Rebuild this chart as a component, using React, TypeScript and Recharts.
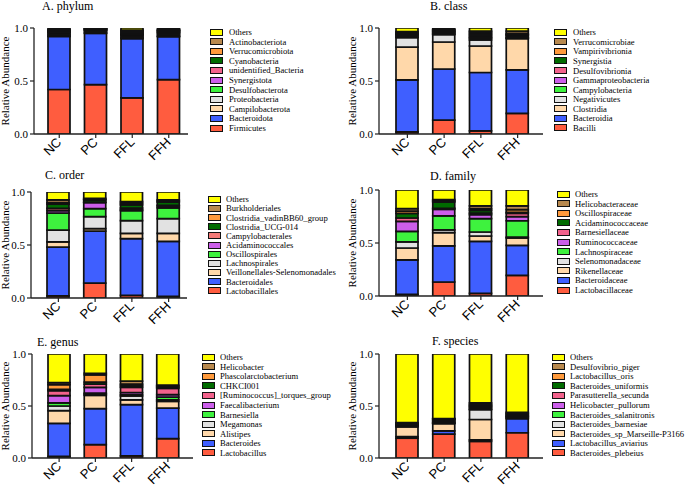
import { Bar, BarChart, XAxis, YAxis } from 'recharts'

const groups = ['NC', 'PC', 'FFL', 'FFH']

// bottom of the stack first
const palette = ['#FF5C3F', '#3F5FFF', '#FFD8AA', '#E2E2E2', '#3EF23E', '#CC5EEA', '#F2628C', '#006B00', '#FF9A3C', '#B8894E', '#FFFF00']

const phylumTaxa = ['Firmicutes', 'Bacteroidota', 'Campilobacterota', 'Proteobacteria', 'Desulfobacterota', 'Synergistota', 'unidentified_Bacteria', 'Cyanobacteria', 'Verrucomicrobiota', 'Actinobacteriota', 'Others']
const phylumValues = [
  [0.42, 0.465, 0.34, 0.513],
  [0.5, 0.485, 0.56, 0.405],
  [0.005, 0.005, 0.01, 0.005],
  [0.015, 0.015, 0.015, 0.015],
  [0.015, 0.01, 0.01, 0.015],
  [0.005, 0.003, 0.005, 0.005],
  [0.01, 0.005, 0.01, 0.01],
  [0.005, 0.005, 0.01, 0.005],
  [0.005, 0.002, 0.01, 0.005],
  [0.005, 0.002, 0.01, 0.007],
  [0.015, 0.003, 0.02, 0.015],
]

const classTaxa = ['Bacilli', 'Bacteroidia', 'Clostridia', 'Negativicutes', 'Campylobacteria', 'Gammaproteobacteria', 'Desulfovibrionia', 'Synergistia', 'Vampirivibrionia', 'Verrucomicrobiae', 'Others']
const classValues = [
  [0.02, 0.13, 0.03, 0.195],
  [0.49, 0.483, 0.55, 0.41],
  [0.31, 0.255, 0.25, 0.295],
  [0.09, 0.07, 0.057, 0.005],
  [0.005, 0.005, 0.015, 0.005],
  [0.015, 0.01, 0.01, 0.015],
  [0.01, 0.01, 0.015, 0.01],
  [0.005, 0.005, 0.015, 0.005],
  [0.01, 0.01, 0.015, 0.01],
  [0.01, 0.007, 0.013, 0.02],
  [0.035, 0.015, 0.03, 0.03],
]

const orderTaxa = ['Lactobacillales', 'Bacteroidales', 'Veillonellales-Selenomonadales', 'Lachnospirales', 'Oscillospirales', 'Acidaminococcales', 'Campylobacterales', 'Clostridia_UCG-014', 'Clostridia_vadinBB60_group', 'Burkholderiales', 'Others']
const orderValues = [
  [0.02, 0.14, 0.025, 0.015],
  [0.46, 0.49, 0.535, 0.52],
  [0.05, 0.025, 0.05, 0.075],
  [0.11, 0.112, 0.12, 0.138],
  [0.16, 0.076, 0.094, 0.102],
  [0.025, 0.057, 0.01, 0.015],
  [0.02, 0.005, 0.015, 0.01],
  [0.04, 0.02, 0.03, 0.03],
  [0.015, 0.005, 0.015, 0.01],
  [0.025, 0.01, 0.016, 0.01],
  [0.075, 0.06, 0.09, 0.075],
]

const familyTaxa = ['Lactobacillaceae', 'Bacteroidaceae', 'Rikenellaceae', 'Selenomonadaceae', 'Lachnospiraceae', 'Ruminococcaceae', 'Barnesiellaceae', 'Acidaminococcaceae', 'Oscillospiraceae', 'Helicobacteraceae', 'Others']
const familyValues = [
  [0.015, 0.132, 0.025, 0.195],
  [0.325, 0.34, 0.491, 0.283],
  [0.113, 0.125, 0.05, 0.069],
  [0.057, 0.026, 0.038, 0.008],
  [0.1, 0.132, 0.126, 0.155],
  [0.094, 0.063, 0.037, 0.038],
  [0.032, 0.01, 0.015, 0.032],
  [0.044, 0.059, 0.025, 0.01],
  [0.02, 0.01, 0.018, 0.025],
  [0.024, 0.013, 0.025, 0.035],
  [0.176, 0.09, 0.15, 0.15],
]

const genusTaxa = ['Lactobacillus', 'Bacteroides', 'Alistipes', 'Megamonas', 'Barnesiella', 'Faecalibacterium', '[Ruminococcus]_torques_group', 'CHKCI001', 'Phascolarctobacterium', 'Helicobacter', 'Others']
const genusValues = [
  [0.015, 0.128, 0.02, 0.186],
  [0.318, 0.346, 0.493, 0.294],
  [0.122, 0.129, 0.045, 0.065],
  [0.045, 0.01, 0.038, 0.015],
  [0.03, 0.01, 0.014, 0.025],
  [0.07, 0.057, 0.02, 0.025],
  [0.047, 0.03, 0.05, 0.06],
  [0.013, 0.02, 0.015, 0.01],
  [0.045, 0.07, 0.015, 0.01],
  [0.02, 0.015, 0.03, 0.01],
  [0.275, 0.185, 0.26, 0.3],
]

const speciesTaxa = ['Bacteroides_plebeius', 'Lactobacillus_aviarius', 'Bacteroides_sp_Marseille-P3166', 'Bacteroides_barnesiae', 'Bacteroides_salanitronis', 'Helicobacter_pullorum', 'Parasutterella_secunda', 'Bacteroides_uniformis', 'Lactobacillus_oris', 'Desulfovibrio_piger', 'Others']
const speciesValues = [
  [0.19, 0.23, 0.16, 0.243],
  [0.015, 0.03, 0.015, 0.135],
  [0.095, 0.07, 0.195, 0.007],
  [0.005, 0.005, 0.095, 0.01],
  [0.005, 0.005, 0.005, 0.005],
  [0.01, 0.01, 0.015, 0.005],
  [0.005, 0.01, 0.01, 0.01],
  [0.005, 0.01, 0.01, 0.01],
  [0.005, 0.005, 0.01, 0.005],
  [0.005, 0.005, 0.015, 0.01],
  [0.66, 0.62, 0.47, 0.56],
]

const orderColors = palette.map((c, i) => (i === 6 ? '#F47A78' : c))

const SERIF = '"Liberation Serif", "Times New Roman", serif'
const SANS = '"Liberation Sans", Arial, sans-serif'

function GroupTick(props: any) {
  const { x, y, payload } = props
  return (
    <g transform={`translate(${x + 3},${y + 3})`}>
      <text textAnchor="end" transform="rotate(-45)" fontFamily={SANS} fontSize={13} fill="#000">
        {payload.value}
      </text>
    </g>
  )
}

interface PanelProps {
  title: string
  taxa: string[]
  values: number[][]
  colors: string[]
  box: { x: number; y: number; w: number; h: number }
  plot: { l: number; r: number; t: number; b: number }
  pad: [number, number]
  titlePos: [number, number]
  labelX: number
  legend: { sx: number; tx: number; y0: number; step: number }
}

function Panel({ title, taxa, values, colors, box, plot, pad, titlePos, labelX, legend }: PanelProps) {
  const rows = groups.map((g, gi) => {
    const row: Record<string, any> = { group: g }
    taxa.forEach((_, ti) => {
      row[`s${ti}`] = values[ti][gi]
    })
    return row
  })
  const legendItems = taxa.map((t, i) => ({ name: t, color: colors[i] })).reverse()

  return (
    <>
      <div style={{ position: 'absolute', left: box.x, top: box.y }}>
        <BarChart
          width={box.w}
          height={box.h}
          data={rows}
          barSize={22}
          margin={{ top: plot.t - box.y, right: box.x + box.w - plot.r, bottom: 0, left: 0 }}
        >
          <XAxis
            dataKey="group"
            height={box.y + box.h - plot.b}
            padding={{ left: pad[0], right: pad[1] }}
            interval={0}
            tick={<GroupTick />}
            tickSize={4}
            tickLine={{ stroke: '#222', strokeWidth: 1.2 }}
            axisLine={{ stroke: '#222', strokeWidth: 1.3 }}
          />
          <YAxis
            width={plot.l - box.x}
            domain={[0, 1]}
            allowDataOverflow
            ticks={[0, 0.5, 1]}
            tickFormatter={(v: number) => v.toFixed(1)}
            tickSize={4}
            tickMargin={2}
            tick={{ fontFamily: SERIF, fontSize: 11, fill: '#000' }}
            tickLine={{ stroke: '#222', strokeWidth: 1.2 }}
            axisLine={{ stroke: '#222', strokeWidth: 1.3 }}
          />
          {taxa.map((t, i) => (
            <Bar
              key={t}
              dataKey={`s${i}`}
              name={t}
              stackId="a"
              fill={colors[i]}
              stroke="#111"
              strokeWidth={1.7}
              isAnimationActive={false}
            />
          ))}
        </BarChart>
      </div>
      <div
        style={{
          position: 'absolute',
          left: titlePos[0],
          top: titlePos[1],
          fontFamily: SERIF,
          fontSize: 12,
          lineHeight: 1,
          whiteSpace: 'nowrap',
        }}
      >
        {title}
      </div>
      <div
        style={{
          position: 'absolute',
          left: labelX,
          top: (plot.t + plot.b) / 2,
          transform: 'translate(-50%, -50%) rotate(-90deg)',
          fontFamily: SERIF,
          fontSize: 11,
          lineHeight: 1,
          whiteSpace: 'nowrap',
        }}
      >
        Relative Abundance
      </div>
      {legendItems.map((item, i) => {
        const cy = legend.y0 + i * legend.step
        return (
          <div key={item.name}>
            <div
              style={{
                position: 'absolute',
                left: legend.sx,
                top: cy - 3.5,
                width: 11,
                height: 5,
                background: item.color,
                border: '1px solid #111',
              }}
            />
            <div
              style={{
                position: 'absolute',
                left: legend.tx,
                top: cy - 5,
                height: 10,
                lineHeight: '10px',
                fontFamily: SERIF,
                fontSize: 8.6,
                whiteSpace: 'nowrap',
              }}
            >
              {item.name}
            </div>
          </div>
        )
      })}
    </>
  )
}

export default function App() {
  return (
    <div style={{ position: 'absolute', left: 0, top: 0, width: 685, height: 487, background: '#fff', overflow: 'hidden' }}>
      <Panel
        title="A. phylum"
        taxa={phylumTaxa}
        values={phylumValues}
        colors={palette}
        box={{ x: 0, y: 0, w: 195, h: 165 }}
        plot={{ l: 34, r: 188, t: 28, b: 134 }}
        pad={[7, 1]}
        titlePos={[42, 0]}
        labelX={5}
        legend={{ sx: 210, tx: 229, y0: 32, step: 9.6 }}
      />
      <Panel
        title="B. class"
        taxa={classTaxa}
        values={classValues}
        colors={palette}
        box={{ x: 345, y: 0, w: 205, h: 165 }}
        plot={{ l: 379, r: 543, t: 28, b: 134 }}
        pad={[10, 7]}
        titlePos={[430, 0]}
        labelX={352}
        legend={{ sx: 554, tx: 573, y0: 32.3, step: 9.55 }}
      />
      <Panel
        title="C. order"
        taxa={orderTaxa}
        values={orderValues}
        colors={orderColors}
        box={{ x: 0, y: 165, w: 195, h: 162 }}
        plot={{ l: 31, r: 187, t: 192, b: 298 }}
        pad={[9, 0]}
        titlePos={[45, 169]}
        labelX={5}
        legend={{ sx: 208, tx: 226, y0: 199.3, step: 9.14 }}
      />
      <Panel
        title="D. family"
        taxa={familyTaxa}
        values={familyValues}
        colors={palette}
        box={{ x: 345, y: 165, w: 205, h: 162 }}
        plot={{ l: 379, r: 543, t: 190, b: 296 }}
        pad={[10, 7]}
        titlePos={[430, 170]}
        labelX={352}
        legend={{ sx: 557, tx: 575, y0: 194, step: 9.6 }}
      />
      <Panel
        title="E. genus"
        taxa={genusTaxa}
        values={genusValues}
        colors={palette}
        box={{ x: 0, y: 330, w: 200, h: 157 }}
        plot={{ l: 32, r: 193, t: 354, b: 458 }}
        pad={[9, 7]}
        titlePos={[37, 336]}
        labelX={5}
        legend={{ sx: 202, tx: 220, y0: 357.3, step: 9.54 }}
      />
      <Panel
        title="F. species"
        taxa={speciesTaxa}
        values={speciesValues}
        colors={palette}
        box={{ x: 345, y: 330, w: 205, h: 157 }}
        plot={{ l: 379, r: 543, t: 354, b: 458 }}
        pad={[10, 7]}
        titlePos={[432, 335]}
        labelX={352}
        legend={{ sx: 552, tx: 570, y0: 357.3, step: 9.54 }}
      />
    </div>
  )
}
